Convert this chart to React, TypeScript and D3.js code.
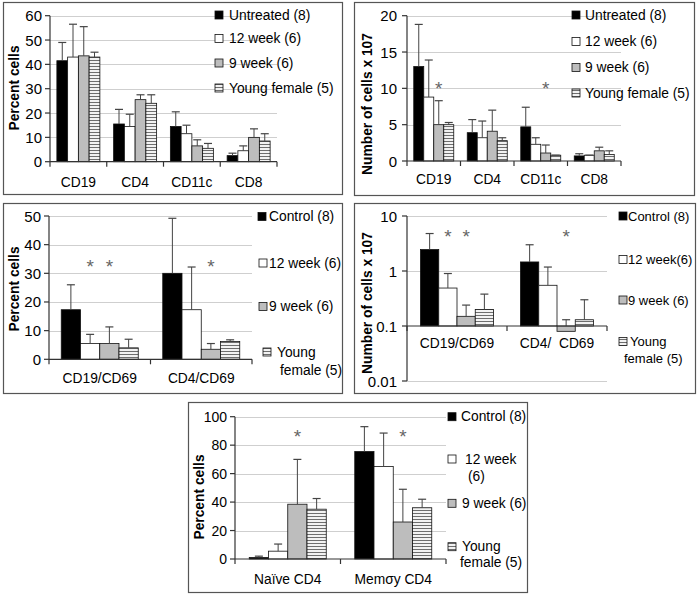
import React from 'react';
import * as d3 from 'd3';

// ---------- DATA ----------
const seriesA = ['Untreated (8)', '12 week (6)', '9 week (6)', 'Young female (5)'];
const seriesC = ['Control (8)', '12 week (6)', '9 week (6)', 'Young female (5)'];

// Panel A: percent cells
const catsA = ['CD19', 'CD4', 'CD11c', 'CD8'];
const valsA = [
  [41.5, 15.5, 14.5, 2.5],
  [43, 14.5, 11.5, 4.5],
  [43.5, 25.5, 6.5, 10],
  [43, 24, 5.5, 8.5],
];
const errA = [
  [49, 21.5, 20.5, 3.5],
  [56.5, 19.5, 15, 6.5],
  [55.5, 27.5, 9, 13.5],
  [45, 27.5, 7.5, 11.5],
];
const ticksA = [0, 10, 20, 30, 40, 50, 60];

// Panel B: number of cells x 10^7
const catsB = ['CD19', 'CD4', 'CD11c', 'CD8'];
const valsB = [
  [13, 3.9, 4.7, 0.7],
  [8.8, 3.2, 2.3, 0.8],
  [5.0, 4.1, 1.1, 1.4],
  [5.0, 2.8, 0.8, 0.9],
];
const errB = [
  [18.8, 5.7, 7.4, 1.0],
  [13.9, 5.5, 3.2, 0.8],
  [8.3, 7.0, 2.2, 1.9],
  [5.3, 3.2, 0.8, 1.4],
];
const ticksB = [0, 5, 10, 15, 20];
const starsB = [[0, 2, 10.5], [2, 2, 10.5]];

// Panel C: percent CD69+
const catsC = ['CD19/CD69', 'CD4/CD69'];
const valsC = [
  [17.3, 30],
  [5.5, 17.3],
  [5.5, 3.5],
  [4, 6.2],
];
const errC = [
  [26, 49.2],
  [8.7, 32.2],
  [11.3, 5.5],
  [7, 6.8],
];
const ticksC = [0, 10, 20, 30, 40, 50];
const starsC = [[0, 1, 33.7], [0, 2, 33.7], [1, 2, 33.7]];

// Panel D: number of CD69+ cells (log)
const catsD = ['CD19/CD69', 'CD4/  CD69'];
const valsD = [
  [2.45, 1.46],
  [0.49, 0.55],
  [0.15, 0.08],
  [0.2, 0.13],
];
const errD = [
  [4.8, 3.0],
  [0.9, 1.18],
  [0.24, 0.13],
  [0.38, 0.3],
];
const ticksD = [0.01, 0.1, 1, 10];
const starsD = [[0, 1, 5.0], [0, 2, 5.0], [1, 2, 5.0]];

// Panel E: naive / memory CD4
const catsE = ['Naïve CD4', 'Memσy CD4'];
const valsE = [
  [1, 75.5],
  [5.5, 65],
  [38.5, 26],
  [35, 36],
];
const errE = [
  [2, 93],
  [10.5, 88.5],
  [70, 49],
  [42.5, 42],
];
const ticksE = [0, 20, 40, 60, 80, 100];
const starsE = [[0, 2, 88.3], [1, 2, 88.3]];

// ---------- STYLE ----------
const fills = ['#000000', '#ffffff', '#bdbdbd', 'url(#hatch)'];
const FONT = '"Liberation Sans", Arial, sans-serif';
const FS = 13.8;

type Legend = { sx: number; sy: number; lines: { t: string; x: number; y: number }[] };

type Cfg = {
  box: [number, number, number, number];
  x0: number; x1: number; yTop: number; yBot: number;
  log?: boolean; domain: [number, number]; base: number;
  cats: string[]; vals: number[][]; errs: number[][];
  ticks: number[]; grid: number[]; gridX1: number;
  groupW: number; catY: number; tickLabelX: number; tickFS: number;
  ylabel: string; ylx: number; yly: number;
  legend: Legend[];
  legendFS?: number;
  stars?: number[][];
};

function Panel({ c }: { c: Cfg }) {
  const y: any = c.log
    ? d3.scaleLog().domain(c.domain).range([c.yBot, c.yTop])
    : d3.scaleLinear().domain(c.domain).range([c.yBot, c.yTop]);
  const x = d3.scaleBand<string>().domain(c.cats).range([c.x0, c.x1]);
  const sub = d3.scaleBand<number>().domain([0, 1, 2, 3]).range([-c.groupW / 2, c.groupW / 2]);
  const bw = sub.bandwidth();
  const yBase = y(c.base);
  const [bx, by, bx2, by2] = c.box;
  const edges = d3.range(c.cats.length + 1).map((i) => c.x0 + i * x.step());
  return (
    <g fontFamily={FONT} fontSize={FS}>
      <rect x={bx + 0.5} y={by + 0.5} width={bx2 - bx} height={by2 - by} fill="#fff" stroke="#555" strokeWidth={1.2} />
      {c.grid.map((g) => (
        <line key={'g' + g} x1={c.x0} x2={c.gridX1} y1={Math.round(y(g)) + 0.5} y2={Math.round(y(g)) + 0.5} stroke="#cfcfcf" strokeWidth={1} />
      ))}
      {c.vals.map((row, s) =>
        row.map((v, i) => {
          const cx = (x(c.cats[i]) as number) + x.bandwidth() / 2;
          const bx0 = cx + (sub(s) as number);
          const yv = y(v);
          const top = Math.min(yv, yBase);
          const h = Math.abs(yv - yBase);
          const ye = y(c.errs[s][i]);
          const ex = bx0 + bw / 2;
          const ystart = v >= c.base ? yv : yBase;
          return (
            <g key={s + '-' + i}>
              <rect x={bx0} y={top} width={bw} height={h} fill={fills[s]} stroke="#111" strokeWidth={0.8} />
              <line x1={ex} x2={ex} y1={ystart} y2={ye} stroke="#444" strokeWidth={1} />
              <line x1={ex - 4} x2={ex + 4} y1={ye} y2={ye} stroke="#444" strokeWidth={1.2} />
            </g>
          );
        })
      )}
      {/* axes */}
      <line x1={c.x0} x2={c.x0} y1={y(c.domain[1])} y2={y(c.domain[0])} stroke="#333" strokeWidth={1.2} />
      <line x1={c.x0} x2={c.x1} y1={yBase} y2={yBase} stroke="#333" strokeWidth={1.2} />
      {edges.map((e, i) => (
        <line key={'xt' + i} x1={e} x2={e} y1={yBase} y2={yBase + 5} stroke="#333" strokeWidth={1.2} />
      ))}
      {c.ticks.map((t) => (
        <g key={'t' + t}>
          <line x1={c.x0 - 5} x2={c.x0} y1={y(t)} y2={y(t)} stroke="#333" strokeWidth={1.2} />
          <text x={c.tickLabelX} y={y(t)} textAnchor="end" dominantBaseline="central" fill="#000" fontSize={c.tickFS}>{String(t)}</text>
        </g>
      ))}
      {c.cats.map((cat) => (
        <text key={'c' + cat} x={(x(cat) as number) + x.bandwidth() / 2} y={c.catY} textAnchor="middle" dominantBaseline="central" fill="#000" style={{ whiteSpace: 'pre' }}>{cat}</text>
      ))}
      <text transform={`translate(${c.ylx},${c.yly}) rotate(-90)`} textAnchor="middle" dominantBaseline="central" fontWeight="bold" fill="#000">{c.ylabel}</text>
      {(c.stars || []).map(([ci, s, v], k) => {
        const cx = (x(c.cats[ci]) as number) + x.bandwidth() / 2 + (sub(s) as number) + bw / 2;
        return (
          <text key={'s' + k} x={cx} y={y(v) + 10} textAnchor="middle" fontSize={19} fill="#666">*</text>
        );
      })}
      {c.legend.map((l, s) => (
        <g key={'l' + s} fontSize={c.legendFS || FS}>
          <rect x={l.sx} y={l.sy - 4} width={8} height={8} fill={fills[s]} stroke="#111" strokeWidth={0.8} />
          {l.lines.map((ln, k) => (
            <text key={k} x={ln.x} y={ln.y} dominantBaseline="central" fill="#000">{ln.t}</text>
          ))}
        </g>
      ))}
    </g>
  );
}

const panels: Cfg[] = [
  {
    box: [3, 2, 342, 194], x0: 50, x1: 277, yTop: 15.7, yBot: 161.7, domain: [0, 60], base: 0,
    cats: catsA, vals: valsA, errs: errA, ticks: ticksA, grid: ticksA.slice(1), gridX1: 277,
    groupW: 43, catY: 182, tickLabelX: 42, tickFS: 15, ylabel: 'Percent cells', ylx: 14, yly: 88,
    legend: seriesA.map((t, i) => ({ sx: 215, sy: [15, 38.5, 63, 88][i], lines: [{ t, x: 229, y: [15, 38.5, 63, 88][i] }] })),
  },
  {
    box: [354, 2, 694, 195], x0: 407, x1: 621, yTop: 15.7, yBot: 161, domain: [0, 20], base: 0,
    cats: catsB, vals: valsB, errs: errB, ticks: ticksB, grid: ticksB.slice(1), gridX1: 621,
    groupW: 40, catY: 179, tickLabelX: 397, tickFS: 15, ylabel: 'Number of cells x 107', ylx: 367, yly: 104,
    stars: starsB,
    legend: seriesA.map((t, i) => ({ sx: 572, sy: [15, 41.5, 67.5, 93][i], lines: [{ t, x: 585, y: [15, 41.5, 67.5, 93][i] }] })),
  },
  {
    box: [3, 203, 342, 393], x0: 49, x1: 252, yTop: 216, yBot: 359.3, domain: [0, 50], base: 0,
    cats: catsC, vals: valsC, errs: errC, ticks: ticksC, grid: ticksC.slice(1), gridX1: 252,
    groupW: 77, catY: 378, tickLabelX: 41, tickFS: 15, ylabel: 'Percent cells', ylx: 14, yly: 289,
    stars: starsC,
    legend: [
      { sx: 258, sy: 216.5, lines: [{ t: seriesC[0], x: 269, y: 216.5 }] },
      { sx: 259, sy: 263, lines: [{ t: seriesC[1], x: 269, y: 263 }] },
      { sx: 259, sy: 306.5, lines: [{ t: seriesC[2], x: 269, y: 306.5 }] },
      { sx: 263, sy: 352, lines: [{ t: 'Young', x: 277, y: 352 }, { t: 'female (5)', x: 280, y: 370 }] },
    ],
  },
  {
    box: [354, 203, 695, 393], x0: 407, x1: 607, yTop: 216, yBot: 381, log: true, domain: [0.01, 10], base: 0.1,
    cats: catsD, vals: valsD, errs: errD, ticks: ticksD, grid: [0.01, 1, 10], gridX1: 607,
    groupW: 73, catY: 343, tickLabelX: 397, tickFS: 15, ylabel: 'Number of cells x 107', ylx: 367, yly: 303,
    stars: starsD, legendFS: 13,
    legend: [
      { sx: 619, sy: 216, lines: [{ t: seriesC[0], x: 628, y: 216 }] },
      { sx: 619, sy: 259.5, lines: [{ t: '12 week(6)', x: 628, y: 259.5 }] },
      { sx: 619, sy: 300, lines: [{ t: seriesC[2], x: 628, y: 300 }] },
      { sx: 619, sy: 341.5, lines: [{ t: 'Young', x: 630, y: 341.5 }, { t: 'female (5)', x: 624, y: 358.5 }] },
    ],
  },
  {
    box: [188, 402, 527, 592], x0: 235, x1: 446, yTop: 416.7, yBot: 559, domain: [0, 100], base: 0,
    cats: catsE, vals: valsE, errs: errE, ticks: ticksE, grid: ticksE.slice(1), gridX1: 446,
    groupW: 77, catY: 579, tickLabelX: 227, tickFS: 14, ylabel: 'Percent cells', ylx: 199, yly: 497,
    stars: starsE,
    legend: [
      { sx: 448, sy: 416.7, lines: [{ t: seriesC[0], x: 461, y: 416.7 }] },
      { sx: 448, sy: 459, lines: [{ t: '12 week', x: 465, y: 459 }, { t: '(6)', x: 468, y: 476.7 }] },
      { sx: 448, sy: 503.3, lines: [{ t: seriesC[2], x: 462, y: 503.3 }] },
      { sx: 448, sy: 546.7, lines: [{ t: 'Young', x: 462, y: 546.7 }, { t: 'female (5)', x: 460, y: 562 }] },
    ],
  },
];

export default function App() {
  return (
    <svg width={700} height={596} style={{ position: 'absolute', left: 0, top: 0, background: '#fff' }}>
      <defs>
        <pattern id="hatch" width={4} height={3} patternUnits="userSpaceOnUse">
          <rect width={4} height={3} fill="#f2f2f2" />
          <line x1={0} x2={4} y1={0.5} y2={0.5} stroke="#6e6e6e" strokeWidth={1} />
        </pattern>
      </defs>
      <rect width={700} height={596} fill="#fff" />
      {panels.map((p, i) => (
        <Panel key={i} c={p} />
      ))}
    </svg>
  );
}
